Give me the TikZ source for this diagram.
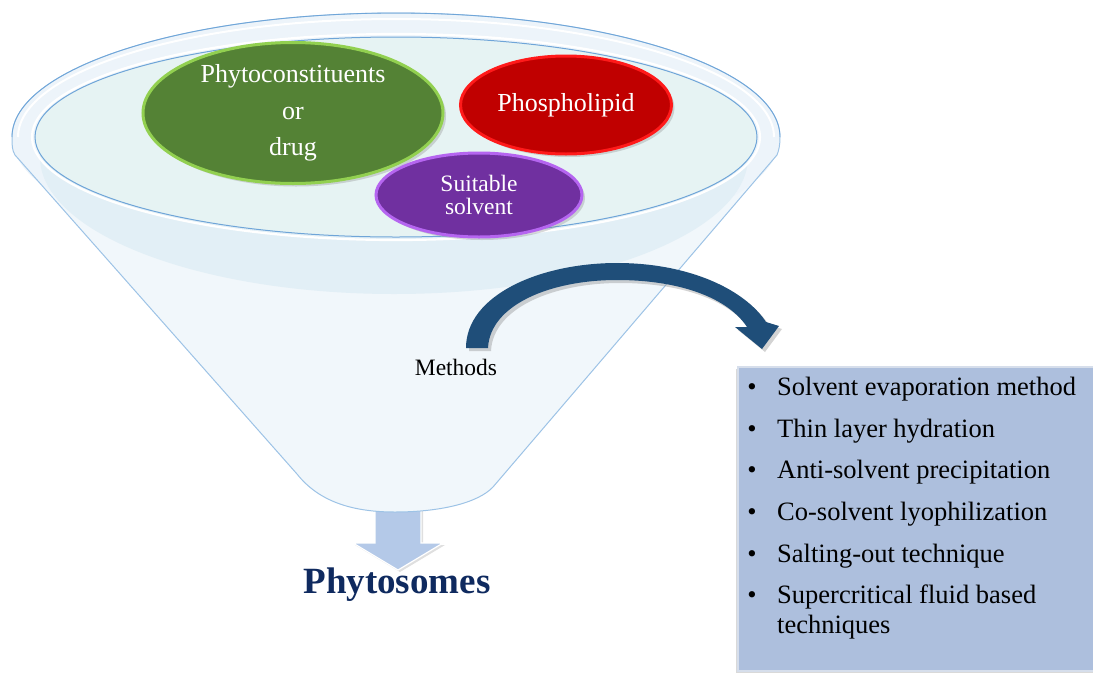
\documentclass[tikz,border=0pt]{standalone}
\usepackage{fontspec}
\setmainfont{Liberation Serif}
\usetikzlibrary{shapes.geometric,shadows}
\definecolor{bodyc}{HTML}{F1F7FB}
\definecolor{rimc}{HTML}{EDF4FA}
\definecolor{bandc}{HTML}{E2EFF6}
\definecolor{innerc}{HTML}{E6F3F3}
\definecolor{edgec}{HTML}{9DC3E6}
\definecolor{rimline}{HTML}{6FA5D8}
\definecolor{greenf}{HTML}{548235}
\definecolor{greenb}{HTML}{92D050}
\definecolor{redf}{HTML}{C00000}
\definecolor{redb}{HTML}{FF1A1A}
\definecolor{purf}{HTML}{7030A0}
\definecolor{purb}{HTML}{B565F0}
\definecolor{arrowc}{HTML}{1F4E79}
\definecolor{boxf}{HTML}{ADBFDD}
\definecolor{boxb}{HTML}{D6DEEB}
\definecolor{downc}{HTML}{B4C9E8}
\definecolor{navy}{HTML}{0F2A5F}
\tikzset{
  blob/.style={ellipse, inner sep=0pt, line width=3pt, text=white, align=center,
    drop shadow={opacity=0.3, shadow xshift=3pt, shadow yshift=-3pt}},
  listitem/.style={anchor=base west, inner sep=0pt, font=\fontsize{26.5}{30}\selectfont},
  bulletmark/.style={anchor=base, inner sep=0pt, font=\fontsize{26.5}{30}\selectfont},
}
\begin{document}
\begin{tikzpicture}[x=1pt,y=-1pt]
\useasboundingbox (0,0) rectangle (1093,673);

% down arrow below funnel
\draw[fill=downc, draw=white, line width=1.2pt,
  drop shadow={opacity=0.25, shadow xshift=2pt, shadow yshift=-2pt}]
  (375,505) -- (421,505) -- (421,543) -- (443,543) -- (398,570) -- (353,543) -- (375,543) -- cycle;

% funnel body
\fill[bodyc] (297,474) -- (15,155) .. controls (12,150) and (12,145) .. (12,137)
  arc[start angle=180, end angle=360, x radius=384, y radius=124]
  .. controls (780,145) and (779,150) .. (777,155) -- (493,487)
  .. controls (478,503) and (440,512) .. (395,512)
  .. controls (355,512) and (320,503) .. (297,474) -- cycle;
% rim
\fill[rimc] (396,137) ellipse [x radius=384, y radius=124];
\draw[white, line width=2pt] (18,137) arc[start angle=180, end angle=360, x radius=378, y radius=118];
% band
\begin{scope}
  \clip (0,137) rectangle (1093,673);
  \clip (297,474) -- (15,155) -- (777,155) -- (493,487) -- cycle;
  \fill[bandc] (394,157) ellipse [x radius=354, y radius=137];
\end{scope}
% liquid surface
\draw[white, line width=2.2pt] (396,137) ellipse [x radius=364, y radius=103];
\draw[fill=innerc, draw=rimline, line width=1pt] (396,137) ellipse [x radius=361, y radius=100];
% funnel outline
\draw[edgec, line width=1pt] (297,474) -- (15,155) .. controls (12,150) and (12,145) .. (12,137)
  arc[start angle=180, end angle=360, x radius=384, y radius=124]
  .. controls (780,145) and (779,150) .. (777,155) -- (493,487)
  .. controls (478,503) and (440,512) .. (395,512)
  .. controls (355,512) and (320,503) .. (297,474);
\draw[rimline, line width=0.8pt] (12,137) arc[start angle=180, end angle=360, x radius=384, y radius=124];

% ingredient ellipses
\node[blob, fill=greenf, draw=greenb, minimum width=300pt, minimum height=141pt,
  font=\fontsize{26}{36.5}\selectfont] (drug) at (293,113) {Phytoconstituents\\or\\drug};
\node[blob, fill=redf, draw=redb, minimum width=211pt, minimum height=98pt,
  font=\fontsize{26}{30}\selectfont] (lipid) at (566,105) {Phospholipid};
\node[blob, fill=purf, draw=purb, minimum width=206pt, minimum height=84pt,
  font=\fontsize{23.5}{23}\selectfont] (solvent) at (479,195) {Suitable\\solvent};

% curved arrow
\fill[arrowc, drop shadow={opacity=0.35, shadow xshift=3pt, shadow yshift=-3pt}]
  (466,348) .. controls (466,295) and (540,263) .. (617,263)
  .. controls (690,263) and (745,290) .. (766,322)
  -- (779,326) -- (762,349) -- (735,327) -- (747,327)
  .. controls (728,298) and (680,280) .. (617,280)
  .. controls (550,280) and (490,305) .. (488,348) -- cycle;

\node[anchor=base, inner sep=0pt, font=\fontsize{23.5}{28}\selectfont] (methods) at (456,375) {Methods};

% methods box
\node[fill=boxf, draw=boxb, line width=2pt, minimum width=362pt, minimum height=304pt,
  inner sep=0pt, drop shadow={opacity=0.3, shadow xshift=-2pt, shadow yshift=-2pt}] (box) at (919,519) {};
\node[bulletmark] (b1) at (752,395) {•};
\node[listitem] (m1) at (777,395) {Solvent evaporation method};
\node[bulletmark] (b2) at (752,437) {•};
\node[listitem] (m2) at (777,437) {Thin layer hydration};
\node[bulletmark] (b3) at (752,478) {•};
\node[listitem] (m3) at (777,478) {Anti-solvent precipitation};
\node[bulletmark] (b4) at (752,520) {•};
\node[listitem] (m4) at (777,520) {Co-solvent lyophilization};
\node[bulletmark] (b5) at (752,562) {•};
\node[listitem] (m5) at (777,562) {Salting-out technique};
\node[bulletmark] (b6) at (752,603) {•};
\node[listitem] (m6) at (777,603) {Supercritical fluid based};
\node[listitem] (m7) at (777,633) {techniques};

% product
\node[anchor=base, inner sep=0pt, text=navy, font=\fontsize{37}{40}\selectfont\bfseries] (product) at (397,593) {Phytosomes};
\end{tikzpicture}
\end{document}
